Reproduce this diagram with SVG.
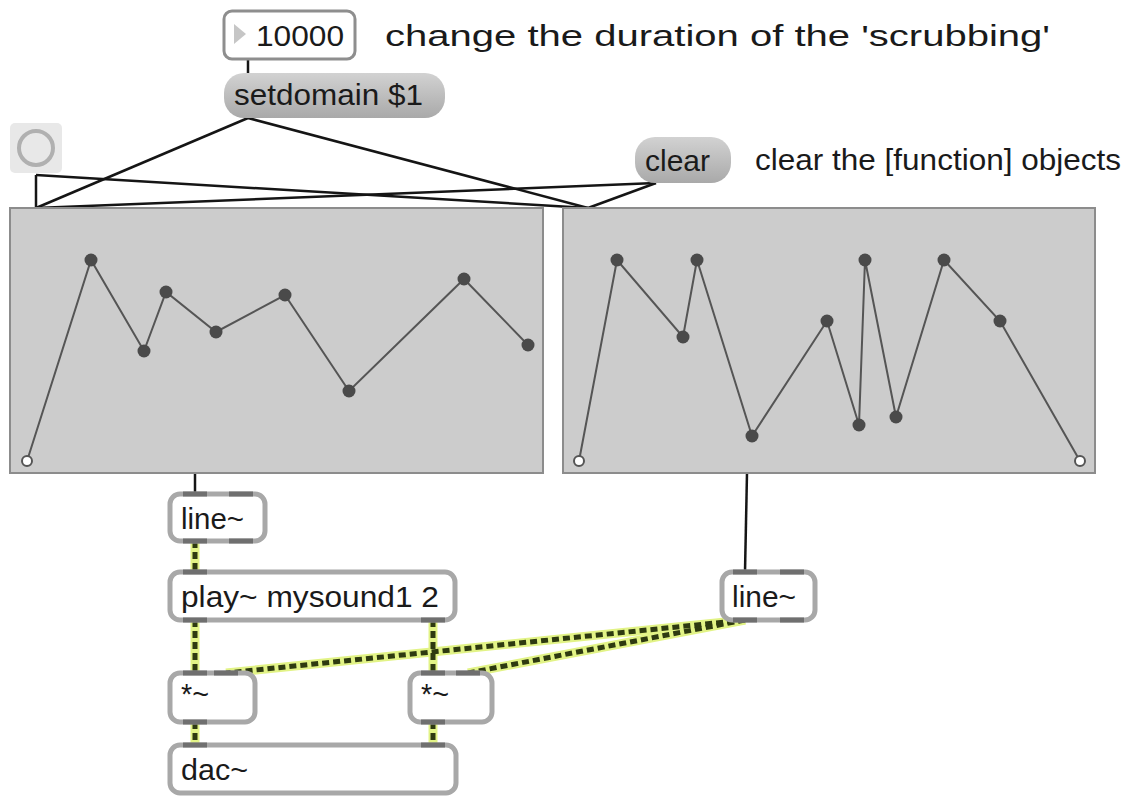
<svg xmlns="http://www.w3.org/2000/svg" width="1128" height="796" viewBox="0 0 1128 796">
<defs>
<linearGradient id="msg" x1="0" y1="0" x2="0" y2="1">
<stop offset="0" stop-color="#d2d2d2"/>
<stop offset="1" stop-color="#a9a9a9"/>
</linearGradient>
<style>
text{font-family:"Liberation Sans",Arial,sans-serif;font-size:29px;fill:#1a1a1a}
.obj{fill:#fff;stroke:#a8a8a8;stroke-width:5}
.io{fill:#6f6f6f}
.msg{fill:url(#msg);stroke:none}
.fn{fill:#cccccc;stroke:#8c8c8c;stroke-width:2}
.curve{fill:none;stroke:#555;stroke-width:2}
.pt{fill:#4a4a4a}
.opt{fill:#fff;stroke:#555;stroke-width:2}
.ctl{stroke:#151515;stroke-width:2.5;fill:none}
.sigb{stroke:#e2f386;stroke-width:9;fill:none}
.sigd{stroke:#2e3a10;stroke-width:5;stroke-dasharray:7 4;fill:none}
</style>
</defs>
<rect width="1128" height="796" fill="#fff"/>

<g id="connectors">
<line class="ctl" x1="248" y1="59" x2="248" y2="73"/>
<line class="ctl" x1="248" y1="118" x2="36" y2="208"/>
<line class="ctl" x1="248" y1="118" x2="588" y2="208"/>
<line class="ctl" x1="656" y1="183" x2="36" y2="208"/>
<line class="ctl" x1="656" y1="183" x2="588" y2="208"/>
<line class="ctl" x1="36" y1="175" x2="36" y2="208"/>
<line class="ctl" x1="36" y1="175" x2="588" y2="208"/>
<line class="ctl" x1="195" y1="473" x2="195" y2="494"/>
<line class="ctl" x1="747" y1="473" x2="745" y2="572"/>
<g>
<line class="sigb" x1="195" y1="541" x2="195" y2="572"/>
<line class="sigb" x1="195" y1="620" x2="195" y2="673"/>
<line class="sigb" x1="433" y1="620" x2="433" y2="673"/>
<line class="sigb" x1="745" y1="620" x2="226" y2="673"/>
<line class="sigb" x1="745" y1="620" x2="468" y2="673"/>
<line class="sigb" x1="195" y1="722" x2="195" y2="745"/>
<line class="sigb" x1="433" y1="722" x2="433" y2="745"/>
<line class="sigd" x1="195" y1="541" x2="195" y2="572"/>
<line class="sigd" x1="195" y1="620" x2="195" y2="673"/>
<line class="sigd" x1="433" y1="620" x2="433" y2="673"/>
<line class="sigd" x1="745" y1="620" x2="226" y2="673"/>
<line class="sigd" x1="745" y1="620" x2="468" y2="673"/>
<line class="sigd" x1="195" y1="722" x2="195" y2="745"/>
<line class="sigd" x1="433" y1="722" x2="433" y2="745"/>
</g>
</g>

<g id="numbox">
<rect x="224" y="11" width="131" height="48" rx="8" fill="#fff" stroke="#8e8e8e" stroke-width="3"/>
<polygon points="234,24 234,44 246,34" fill="#c6c6c6"/>
<text x="256" y="46" textLength="88" lengthAdjust="spacingAndGlyphs">10000</text>
</g>

<g id="comment1">
<text x="385" y="46" textLength="665" lengthAdjust="spacingAndGlyphs">change the duration of the 'scrubbing'</text>
</g>

<g id="setdomain">
<rect class="msg" x="224" y="73" width="221" height="45" rx="20"/>
<text x="234" y="105" textLength="189" lengthAdjust="spacingAndGlyphs">setdomain $1</text>
</g>

<g id="button">
<rect x="10" y="123" width="52" height="50" rx="5" fill="#e8e8e8"/>
<circle cx="36" cy="148" r="17" fill="none" stroke="#b0b0b0" stroke-width="4"/>
</g>

<g id="clear">
<rect class="msg" x="635" y="137" width="96" height="46" rx="20"/>
<text x="645" y="171" textLength="65" lengthAdjust="spacingAndGlyphs">clear</text>
</g>

<g id="comment2">
<text x="755" y="170" textLength="366" lengthAdjust="spacingAndGlyphs">clear the [function] objects</text>
</g>

<g id="function1">
<rect class="fn" x="10" y="208" width="533" height="265"/>
<polyline class="curve" points="27,461 91,260 144,351 166,292 216,332 285,295 349,391 464,279 528,345"/>
<circle class="opt" cx="27" cy="461" r="5"/>
<circle class="pt" cx="91" cy="260" r="6.5"/>
<circle class="pt" cx="144" cy="351" r="6.5"/>
<circle class="pt" cx="166" cy="292" r="6.5"/>
<circle class="pt" cx="216" cy="332" r="6.5"/>
<circle class="pt" cx="285" cy="295" r="6.5"/>
<circle class="pt" cx="349" cy="391" r="6.5"/>
<circle class="pt" cx="464" cy="279" r="6.5"/>
<circle class="pt" cx="528" cy="345" r="6.5"/>
</g>

<g id="function2">
<rect class="fn" x="563" y="208" width="532" height="265"/>
<polyline class="curve" points="579,461 617,260 683,337 697,260 752,436 827,321 859,425 865,260 896,417 944,260 1000,321 1080,461"/>
<circle class="opt" cx="579" cy="461" r="5"/>
<circle class="pt" cx="617" cy="260" r="6.5"/>
<circle class="pt" cx="683" cy="337" r="6.5"/>
<circle class="pt" cx="697" cy="260" r="6.5"/>
<circle class="pt" cx="752" cy="436" r="6.5"/>
<circle class="pt" cx="827" cy="321" r="6.5"/>
<circle class="pt" cx="859" cy="425" r="6.5"/>
<circle class="pt" cx="865" cy="260" r="6.5"/>
<circle class="pt" cx="896" cy="417" r="6.5"/>
<circle class="pt" cx="944" cy="260" r="6.5"/>
<circle class="pt" cx="1000" cy="321" r="6.5"/>
<circle class="opt" cx="1080" cy="461" r="5"/>
</g>

<g id="line1">
<rect class="obj" x="170" y="494" width="95" height="47" rx="10"/>
<rect class="io" x="183" y="491.5" width="24" height="5"/>
<rect class="io" x="229" y="491.5" width="24" height="5"/>
<rect class="io" x="183" y="538.5" width="24" height="5"/>
<rect class="io" x="229" y="538.5" width="24" height="5"/>
<text x="181" y="529" textLength="63" lengthAdjust="spacingAndGlyphs">line~</text>
</g>

<g id="play">
<rect class="obj" x="170" y="572" width="285" height="48" rx="10"/>
<rect class="io" x="183" y="569.5" width="24" height="5"/>
<rect class="io" x="183" y="617.5" width="24" height="5"/>
<rect class="io" x="421" y="617.5" width="24" height="5"/>
<text x="181" y="607" textLength="258" lengthAdjust="spacingAndGlyphs">play~ mysound1 2</text>
</g>

<g id="line2">
<rect class="obj" x="722" y="572" width="93" height="48" rx="10"/>
<rect class="io" x="733" y="569.5" width="24" height="5"/>
<rect class="io" x="780" y="569.5" width="24" height="5"/>
<rect class="io" x="733" y="617.5" width="24" height="5"/>
<rect class="io" x="780" y="617.5" width="24" height="5"/>
<text x="732" y="607" textLength="64" lengthAdjust="spacingAndGlyphs">line~</text>
</g>

<g id="mul1">
<rect class="obj" x="170" y="673" width="85" height="49" rx="10"/>
<rect class="io" x="183" y="670.5" width="24" height="5"/>
<rect class="io" x="214" y="670.5" width="24" height="5"/>
<rect class="io" x="183" y="719.5" width="24" height="5"/>
<text x="181" y="704" textLength="28" lengthAdjust="spacingAndGlyphs">*~</text>
</g>

<g id="mul2">
<rect class="obj" x="410" y="673" width="82" height="49" rx="10"/>
<rect class="io" x="421" y="670.5" width="24" height="5"/>
<rect class="io" x="456" y="670.5" width="24" height="5"/>
<rect class="io" x="421" y="719.5" width="24" height="5"/>
<text x="421" y="704" textLength="28" lengthAdjust="spacingAndGlyphs">*~</text>
</g>

<g id="dac">
<rect class="obj" x="170" y="745" width="286" height="48" rx="10"/>
<rect class="io" x="183" y="742.5" width="24" height="5"/>
<rect class="io" x="421" y="742.5" width="24" height="5"/>
<text x="181" y="780" textLength="67" lengthAdjust="spacingAndGlyphs">dac~</text>
</g>
</svg>
